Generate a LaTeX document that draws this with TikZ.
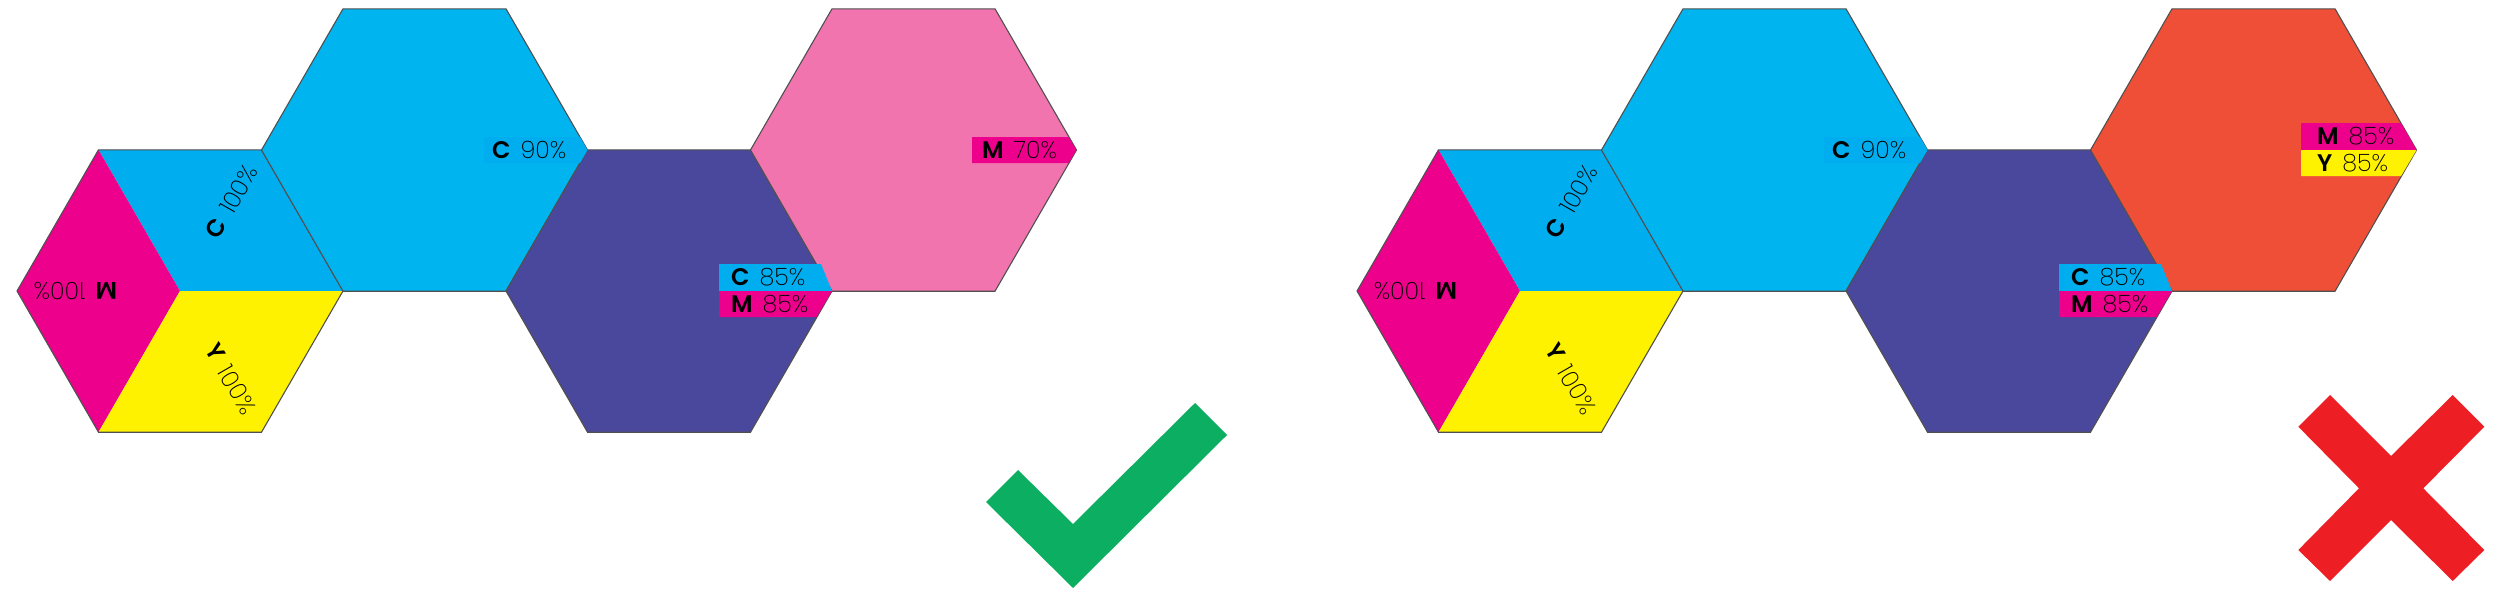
\documentclass[tikz,border=0pt]{standalone}
\usepackage{fontspec}
\IfFontExistsTF{Poppins ExtraLight}{\newfontfamily\numfont{Poppins ExtraLight}}{%
 \IfFontExistsTF{Poppins Thin}{\newfontfamily\numfont{Poppins Thin}}{%
  \IfFontExistsTF{Poppins Light}{\newfontfamily\numfont{Poppins Light}}{\newfontfamily\numfont{Poppins}}}}
\IfFontExistsTF{Poppins SemiBold}{\newfontfamily\letfont{Poppins SemiBold}}{\newfontfamily\letfont{Poppins}}
\definecolor{cyanA}{HTML}{00AEEF}
\definecolor{cyanB}{HTML}{00B4F0}
\definecolor{magA}{HTML}{EC008C}
\definecolor{yelA}{HTML}{FFF200}
\definecolor{purA}{HTML}{4A489C}
\definecolor{pinkA}{HTML}{F274AE}
\definecolor{redA}{HTML}{F04F37}
\definecolor{greenA}{HTML}{0CAF62}
\definecolor{xredA}{HTML}{ED1F24}
\definecolor{edgeA}{HTML}{505050}
\newcommand\lbl[2]{{\letfont #1}\hspace{0.42em}{\numfont #2\%}}
\newcommand\hexat[3]{\filldraw[hexs,fill=#3] (#1,#2) +(163,0) -- +(81.5,141.2) -- +(-81.5,141.2) -- +(-163,0) -- +(-81.5,-141.2) -- +(81.5,-141.2) -- cycle;}
\newcommand\panel[1]{%
  \coordinate (#1O) at (180,291);
  \fill[cyanA] (#1O) -- +(-81.5,-141.2) -- +(81.5,-141.2) -- +(163,0) -- cycle;
  \fill[magA] (#1O) -- +(-81.5,-141.2) -- +(-163,0) -- +(-81.5,141.2) -- cycle;
  \fill[yelA] (#1O) -- +(-81.5,141.2) -- +(81.5,141.2) -- +(163,0) -- cycle;
  \draw[hexs] (#1O) +(163,0) -- +(81.5,141.2) -- +(-81.5,141.2) -- +(-163,0) -- +(-81.5,-141.2) -- +(81.5,-141.2) -- cycle;
  \hexat{424.5}{150}{cyanB}
  \hexat{669}{291}{purA}
  \node[lab,rotate=60] (#1cC) at (211.5,236.4) {\lbl{C}{100}};
  \node[lab,rotate=180] (#1cM) at (117,291) {\lbl{M}{100}};
  \node[lab,rotate=-60] (#1cY) at (211.5,345.6) {\lbl{Y}{100}};
  \fill[cyanA] (484,137) -- (580,137) -- (587.5,150) -- (580,163) -- (484,163) -- cycle;
  \node[lab] (#1C90) at (492,150) {\lbl{C}{90}};
}
\tikzset{
  hexs/.style={draw=edgeA,line width=1.1pt,line join=miter},
  lab/.style={anchor=west,inner sep=0pt,outer sep=0pt,text=black,font=\fontsize{24}{28}\selectfont},
}
\begin{document}
\begin{tikzpicture}[x=1pt,y=-1pt]
\useasboundingbox (0,0) rectangle (2500,597);
% ---------- left panel ----------
\panel{L}
\hexat{913.5}{150}{pinkA}
\fill[cyanA] (719,264) -- (821,264) -- (832,291) -- (719,291) -- cycle;
\fill[magA] (719,291) -- (832,291) -- (816.5,317) -- (719,317) -- cycle;
\node[lab] (LC85) at (731,277.5) {\lbl{C}{85}};
\node[lab] (LM85) at (731,304.5) {\lbl{M}{85}};
\fill[magA] (972,137) -- (1068.5,137) -- (1076.5,150) -- (1068.5,163) -- (972,163) -- cycle;
\node[lab] (LM70) at (982,150) {\lbl{M}{70}};
\fill[greenA] (986,502) -- (1018,470) -- (1073,524) -- (1195,403) -- (1227,435) -- (1073,588) -- cycle;
% ---------- right panel ----------
\begin{scope}[shift={(1340,0)}]
\panel{R}
\hexat{913.5}{150}{redA}
\fill[cyanA] (719,264) -- (821,264) -- (832,291) -- (719,291) -- cycle;
\fill[magA] (719,291) -- (832,291) -- (816.5,317) -- (719,317) -- cycle;
\node[lab] (RC85) at (731,277.5) {\lbl{C}{85}};
\node[lab] (RM85) at (731,304.5) {\lbl{M}{85}};
\fill[magA] (961,123) -- (1061,123) -- (1076.5,150) -- (961,150) -- cycle;
\fill[yelA] (961,150) -- (1076.5,150) -- (1061,176) -- (961,176) -- cycle;
\node[lab] (RM85b) at (977,136.5) {\lbl{M}{85}};
\node[lab] (RY85) at (977,163) {\lbl{Y}{85}};
\end{scope}
\fill[xredA] (2298.3,426.7) -- (2330,395) -- (2391,456) -- (2452.7,395) -- (2484.3,426.7) -- (2423.3,488.3) -- (2484.3,550) -- (2452.7,581) -- (2391,520) -- (2330,581) -- (2298.3,550) -- (2359,488.3) -- cycle;
\end{tikzpicture}
\end{document}
